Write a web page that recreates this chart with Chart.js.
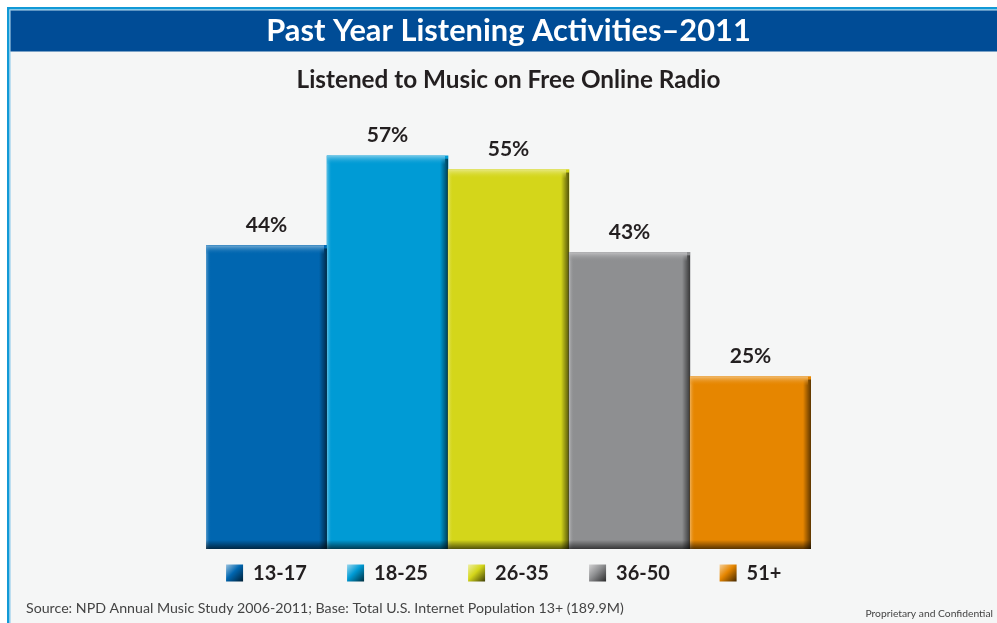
<!DOCTYPE html>
<html>
<head>
<meta charset="utf-8">
<script src="https://cdn.jsdelivr.net/npm/chart.js@4.4.1/dist/chart.umd.min.js"></script>
<style>
  html, body { margin: 0; padding: 0; background: #ffffff; }
  #wrap { width: 997px; height: 623px; position: relative; }
</style>
</head>
<body>
<div id="wrap"><canvas id="c" width="997" height="623"></canvas></div>
<script>
// ---- Data ----
const categories = ["13-17", "18-25", "26-35", "36-50", "51+"];
const values = [44, 57, 55, 43, 25];
const chartTitle = "Past Year Listening Activities\u20132011";
const chartSubtitle = "Listened to Music on Free Online Radio";
const sourceNote = "Source: NPD Annual Music Study 2006-2011; Base: Total U.S. Internet Population 13+ (189.9M)";
const confidentialNote = "Proprietary and Confidential";

// ---- Styles ----
const barColors = ["#0066b0", "#009bd5", "#d4d61a", "#8e8f91", "#e68600"];
const FONT = "Lato, 'Open Sans', sans-serif";
const TEXT_DARK = "#231f20";

function hexToRgb(h) {
  const n = parseInt(h.slice(1), 16);
  return [(n >> 16) & 255, (n >> 8) & 255, n & 255];
}
function mix(h, target, t) {
  const c = hexToRgb(h), d = hexToRgb(target);
  return "rgb(" + c.map((v, i) => Math.round(v + (d[i] - v) * t)).join(",") + ")";
}
function mixA(h, target, t, a) {
  const c = hexToRgb(h), d = hexToRgb(target);
  return "rgba(" + c.map((v, i) => Math.round(v + (d[i] - v) * t)).join(",") + "," + a + ")";
}

const framePlugin = {
  id: "frame",
  beforeDraw(chart) {
    const ctx = chart.ctx, W = chart.width, H = chart.height;
    ctx.save();
    ctx.fillStyle = "#ffffff";
    ctx.fillRect(0, 0, W, H);
    ctx.fillStyle = "#f5f6f6";
    ctx.fillRect(10, 10, W - 10, H - 10);
    ctx.fillStyle = "#1199d6";
    ctx.fillRect(7, 7, 2.5, H - 7);
    ctx.fillRect(7, 7, W - 7, 2.5);
    ctx.fillStyle = "#86c6ea";
    ctx.fillRect(9.5, 9.5, 1, H - 9.5);
    ctx.fillRect(9.5, 9.5, W - 9.5, 1);
    ctx.fillStyle = "#004c96";
    ctx.fillRect(10.5, 10.5, W - 10.5, 41);
    ctx.restore();
  }
};

const bevelPlugin = {
  id: "bevel",
  afterDatasetsDraw(chart) {
    const ctx = chart.ctx;
    const meta = chart.getDatasetMeta(0);
    ctx.save();
    meta.data.forEach((bar, i) => {
      const p = bar.getProps(["x", "y", "base", "width"], true);
      const l = p.x - p.width / 2, r = p.x + p.width / 2, t = p.y, b = p.base;
      const base = barColors[i];
      let g = ctx.createLinearGradient(l, 0, l + 5, 0);
      g.addColorStop(0, mixA(base, "#ffffff", 0.35, 1));
      g.addColorStop(1, mixA(base, "#ffffff", 0.0, 0));
      ctx.fillStyle = g;
      ctx.fillRect(l, t, 5, b - t);
      g = ctx.createLinearGradient(r - 8, 0, r, 0);
      g.addColorStop(0, "rgba(0,0,0,0)");
      g.addColorStop(1, "rgba(0,0,0,0.6)");
      ctx.fillStyle = g;
      ctx.fillRect(r - 8, t + 3, 8, b - t - 3);
      g = ctx.createLinearGradient(0, b - 9, 0, b);
      g.addColorStop(0, "rgba(0,0,0,0)");
      g.addColorStop(1, "rgba(0,0,0,0.62)");
      ctx.fillStyle = g;
      ctx.fillRect(l, b - 9, r - l, 9);
      g = ctx.createLinearGradient(0, t, 0, t + 9);
      g.addColorStop(0, mixA(base, "#ffffff", 0.45, 1));
      g.addColorStop(1, mixA(base, "#ffffff", 0.0, 0));
      ctx.fillStyle = g;
      ctx.fillRect(l, t, r - l - 3, 9);
      ctx.fillStyle = TEXT_DARK;
      ctx.font = "bold 21px " + FONT;
      ctx.textAlign = "center";
      ctx.textBaseline = "middle";
      ctx.fillText(values[i] + "%", p.x, t - 20);
    });
    ctx.restore();
  }
};

const legendPlugin = {
  id: "customLegend",
  afterDraw(chart) {
    const ctx = chart.ctx;
    const xs = chart.scales.x;
    const yc = 573;
    ctx.save();
    ctx.font = "bold 20px " + FONT;
    ctx.textBaseline = "middle";
    ctx.textAlign = "left";
    categories.forEach((cat, i) => {
      const xc = xs.getPixelForValue(i);
      const tw = ctx.measureText(cat).width;
      const box = 17, gap = 10;
      const start = xc - (box + gap + tw) / 2;
      const by = yc - box / 2;
      const g = ctx.createLinearGradient(start, by, start + box, by + box);
      g.addColorStop(0, mix(barColors[i], "#ffffff", 0.6));
      g.addColorStop(0.45, barColors[i]);
      g.addColorStop(1, mix(barColors[i], "#000000", 0.7));
      ctx.fillStyle = g;
      ctx.fillRect(start, by, box, box);
      ctx.fillStyle = TEXT_DARK;
      ctx.fillText(cat, start + box + gap, yc + 1);
    });
    ctx.fillStyle = "#444444";
    ctx.font = "14.2px " + FONT;
    ctx.fillText(sourceNote, 26, 608);
    ctx.font = "10.3px " + FONT;
    ctx.textAlign = "right";
    ctx.fillText(confidentialNote, 993, 614);
    ctx.restore();
  }
};

new Chart(document.getElementById("c"), {
  type: "bar",
  data: {
    labels: categories,
    datasets: [{
      data: values,
      backgroundColor: barColors,
      borderWidth: 0,
      barPercentage: 1,
      categoryPercentage: 1
    }]
  },
  options: {
    responsive: false,
    animation: false,
    devicePixelRatio: 1,
    layout: { padding: { left: 206, right: 186, top: 0, bottom: 74 } },
    scales: {
      x: { display: false },
      y: { display: false, min: 0, max: 65 }
    },
    plugins: {
      legend: { display: false },
      tooltip: { enabled: false },
      title: {
        display: true,
        text: chartTitle,
        color: "#ffffff",
        font: { family: FONT, size: 30.8, weight: "bold", lineHeight: 1.2 },
        padding: { top: 12.5, bottom: 16.3 }
      },
      subtitle: {
        display: true,
        text: chartSubtitle,
        color: TEXT_DARK,
        font: { family: FONT, size: 24.3, weight: "bold", lineHeight: 1.2 },
        padding: { top: 0, bottom: 5.6 }
      }
    }
  },
  plugins: [framePlugin, bevelPlugin, legendPlugin]
});
</script>
</body>
</html>
